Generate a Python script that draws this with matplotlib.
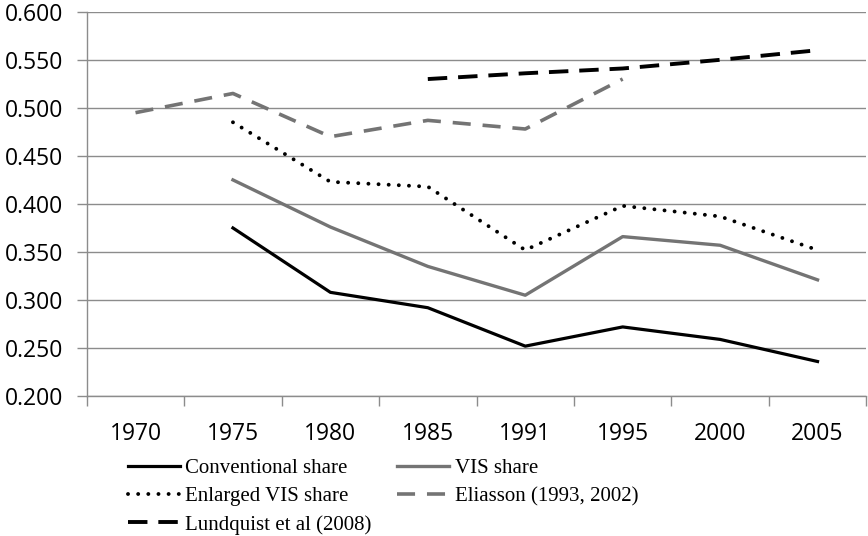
import matplotlib.pyplot as plt
import numpy as np

years = ['1970', '1975', '1980', '1985', '1991', '1995', '2000', '2005']
conventional = [np.nan, 0.375, 0.308, 0.292, 0.252, 0.272, 0.259, 0.236]
vis = [np.nan, 0.425, 0.376, 0.335, 0.305, 0.366, 0.357, 0.321]
enlarged_vis = [np.nan, 0.485, 0.423, 0.418, 0.352, 0.398, 0.387, 0.352]
eliasson = [0.495, 0.515, 0.470, 0.487, 0.478, 0.530, np.nan, np.nan]
lundquist = [np.nan, np.nan, np.nan, 0.530, 0.536, 0.541, 0.550, 0.560]

grey = '#747474'
grid_grey = '#8c8c8c'
tick_font = ['Open Sans', 'DejaVu Sans']
legend_font = ['Liberation Serif', 'DejaVu Serif']

fig = plt.figure(figsize=(8.68, 5.36), dpi=100)
ax = fig.add_axes([0.100, 0.261, 0.898, 0.717])

x = np.arange(len(years))
l_conv, = ax.plot(x, conventional, color='black', lw=2.3, label='Conventional share')
l_vis, = ax.plot(x, vis, color=grey, lw=2.4, label='VIS share')
l_enl, = ax.plot(x, enlarged_vis, color='black', lw=2.8, linestyle=(0, (0.01, 2.6)),
                 dash_capstyle='round', label='Enlarged VIS share')
l_eli, = ax.plot(x, eliasson, color=grey, lw=2.6, linestyle=(0, (5.0, 3.3)),
                 label='Eliasson (1993, 2002)')
l_lun, = ax.plot(x, lundquist, color='black', lw=2.8, linestyle=(0, (5.0, 2.8)),
                 label='Lundquist et al (2008)')

ax.set_xlim(-0.5, len(years) - 0.5)
ax.set_ylim(0.2, 0.6)
yt = np.arange(0.2, 0.601, 0.05)
ax.set_yticks(yt)
ax.set_yticklabels(['%.3f' % v for v in yt], family=tick_font, fontsize=16.5)
ax.set_xticks(x)
ax.set_xticklabels(years, family=tick_font, fontsize=16.5)
ax.set_xticks(np.arange(-0.5, len(years)), minor=True)
ax.tick_params(axis='x', which='major', length=0, pad=19)
ax.tick_params(axis='x', which='minor', length=7, color=grid_grey, width=1)
ax.tick_params(axis='y', length=7, color=grid_grey, width=1, pad=10)

ax.grid(axis='y', color=grid_grey, lw=1)
ax.set_axisbelow(True)
for s in ['top', 'right']:
    ax.spines[s].set_visible(False)
for s in ['left', 'bottom']:
    ax.spines[s].set_color(grid_grey)
    ax.spines[s].set_linewidth(1)

# rows: Conventional/VIS, Enlarged/Eliasson, Lundquist
handles = [l_conv, l_enl, l_lun, l_vis, l_eli]
fig.legend(handles, [h.get_label() for h in handles], ncol=2, loc='upper left',
           bbox_to_anchor=(0.147, 0.145), frameon=False,
           prop={'family': legend_font, 'size': 15},
           handlelength=2.5, handletextpad=0.25, columnspacing=1.25,
           labelspacing=0.42, borderaxespad=0, borderpad=0)

plt.savefig('out.png', dpi=100)
